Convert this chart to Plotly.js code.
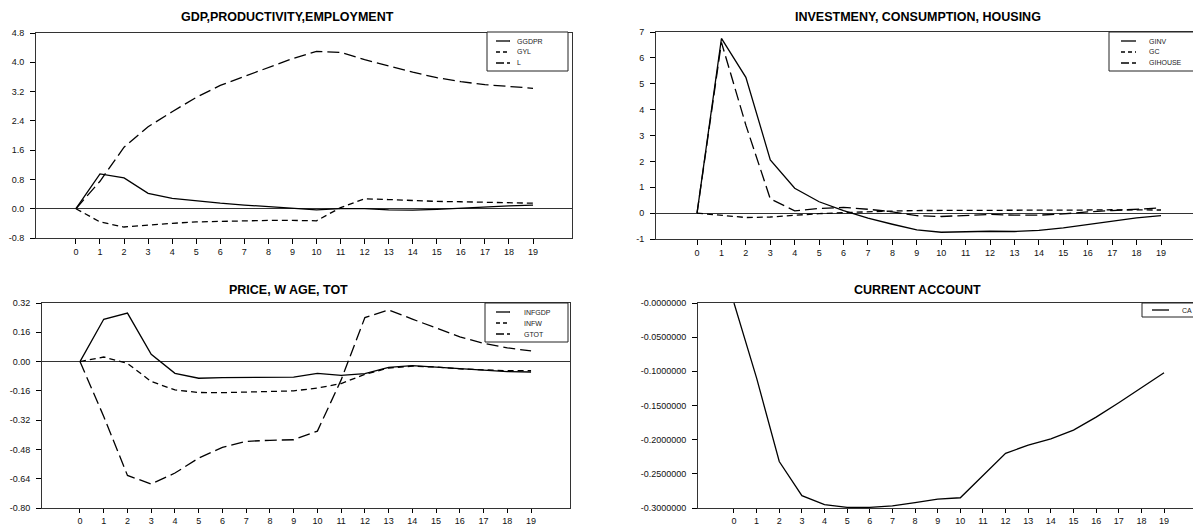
<!DOCTYPE html>
<html>
<head>
<meta charset="utf-8">
<script src="https://cdn.plot.ly/plotly-3.0.1.min.js"></script>
<style>
  html, body { margin: 0; padding: 0; background: #fff; }
  #chart { width: 1193px; height: 526px; }
</style>
</head>
<body>
<div id="chart"></div>
<script>
// ---------- data ----------
var periods = [0,1,2,3,4,5,6,7,8,9,10,11,12,13,14,15,16,17,18,19];

// Panel 1: GDP, productivity, employment
var GGDPR = [0, 0.95, 0.84, 0.42, 0.28, 0.21, 0.15, 0.10, 0.05, 0.00, -0.03, 0.00, 0.00, -0.03, -0.04, -0.02, 0.02, 0.05, 0.08, 0.10];
var GYL   = [0, -0.36, -0.50, -0.44, -0.40, -0.36, -0.34, -0.33, -0.32, -0.32, -0.33, 0.03, 0.27, 0.25, 0.22, 0.20, 0.19, 0.17, 0.16, 0.15];
var L     = [0, 0.75, 1.68, 2.24, 2.65, 3.04, 3.37, 3.62, 3.86, 4.10, 4.30, 4.27, 4.07, 3.89, 3.73, 3.58, 3.47, 3.39, 3.33, 3.29];

// Panel 2: investment, consumption, housing
var GINV    = [0, 6.75, 5.25, 2.06, 0.96, 0.44, 0.10, -0.19, -0.43, -0.65, -0.74, -0.72, -0.70, -0.71, -0.67, -0.57, -0.44, -0.30, -0.18, -0.10];
var GC      = [0, -0.08, -0.17, -0.15, -0.08, -0.02, 0.02, 0.06, 0.08, 0.10, 0.10, 0.11, 0.12, 0.12, 0.12, 0.12, 0.12, 0.13, 0.13, 0.12];
var GIHOUSE = [0, 6.60, 3.40, 0.55, 0.09, 0.18, 0.22, 0.15, 0.05, -0.10, -0.13, -0.08, -0.05, -0.08, -0.08, -0.03, 0.05, 0.10, 0.15, 0.20];

// Panel 3: price, wage, terms of trade
var INFGDP = [0, 0.231, 0.265, 0.040, -0.064, -0.091, -0.088, -0.086, -0.086, -0.085, -0.064, -0.075, -0.066, -0.032, -0.022, -0.030, -0.040, -0.050, -0.055, -0.057];
var INFW   = [0, 0.025, -0.010, -0.109, -0.155, -0.169, -0.170, -0.168, -0.165, -0.160, -0.145, -0.120, -0.070, -0.035, -0.025, -0.030, -0.040, -0.046, -0.050, -0.050];
var GTOT   = [0, -0.30, -0.622, -0.669, -0.609, -0.527, -0.469, -0.436, -0.430, -0.427, -0.380, -0.100, 0.240, 0.282, 0.232, 0.182, 0.135, 0.100, 0.075, 0.058];

// Panel 4: current account
var CA = [0, -0.110, -0.232, -0.282, -0.295, -0.299, -0.299, -0.297, -0.292, -0.287, -0.285, -0.252, -0.220, -0.208, -0.199, -0.186, -0.167, -0.146, -0.124, -0.102];

// tick labels
var ticks1 = [-0.8, 0.0, 0.8, 1.6, 2.4, 3.2, 4.0, 4.8];
var ticks1Text = ["-0.8", "0.0", "0.8", "1.6", "2.4", "3.2", "4.0", "4.8"];
var ticks2 = [-1, 0, 1, 2, 3, 4, 5, 6, 7];
var ticks3 = [-0.80, -0.64, -0.48, -0.32, -0.16, 0.00, 0.16, 0.32];
var ticks3Text = ["-0.80", "-0.64", "-0.48", "-0.32", "-0.16", "0.00", "0.16", "0.32"];
var ticks4 = [-0.30, -0.25, -0.20, -0.15, -0.10, -0.05, 0.0];
var ticks4Text = ["-0.3000000", "-0.2500000", "-0.2000000", "-0.1500000", "-0.1000000", "-0.0500000", "-0.0000000"];

var titles = ["GDP,PRODUCTIVITY,EMPLOYMENT", "INVESTMENY, CONSUMPTION, HOUSING", "PRICE, W AGE, TOT", "CURRENT ACCOUNT"];

// ---------- helpers ----------
var W = 1193, H = 526;
function px(x) { return x / W; }
function py(y) { return 1 - y / H; }

var SOLID = "solid", SHORT = "6px,4px", LONG = "12px,5px";
var FONT = "Liberation Sans, Arial, sans-serif";

function tr(y, name, dash, xa, ya) {
  return {x: periods, y: y, name: name, type: "scatter", mode: "lines",
          line: {color: "#000", width: 1.3, dash: dash},
          xaxis: xa, yaxis: ya, showlegend: false, hoverinfo: "x+y+name"};
}

var data = [
  tr(GGDPR, "GGDPR", SOLID, "x", "y"),
  tr(GYL, "GYL", SHORT, "x", "y"),
  tr(L, "L", LONG, "x", "y"),
  tr(GINV, "GINV", SOLID, "x2", "y2"),
  tr(GC, "GC", SHORT, "x2", "y2"),
  tr(GIHOUSE, "GIHOUSE", LONG, "x2", "y2"),
  tr(INFGDP, "INFGDP", SOLID, "x3", "y3"),
  tr(INFW, "INFW", SHORT, "x3", "y3"),
  tr(GTOT, "GTOT", LONG, "x3", "y3"),
  tr(CA, "CA", SOLID, "x4", "y4")
];

function xax(d0, d1, r0, r1, anchor, tl) {
  return {domain: [px(d0), px(d1)], range: [r0, r1], anchor: anchor,
          tickmode: "array", tickvals: periods, ticktext: periods.map(String),
          ticks: "outside", ticklen: tl, tickcolor: "#000", tickwidth: 1,
          showline: true, mirror: true, linecolor: "#333", linewidth: 1,
          showgrid: false, zeroline: false, fixedrange: true,
          tickfont: {family: FONT, size: 9, color: "#111"}};
}
function yax(d0, d1, r0, r1, anchor, vals, text, zl) {
  return {domain: [py(d1), py(d0)], range: [r0, r1], anchor: anchor,
          tickmode: "array", tickvals: vals, ticktext: text,
          ticks: "outside", ticklen: 5, tickcolor: "#000", tickwidth: 1,
          showline: true, mirror: true, linecolor: "#333", linewidth: 1,
          showgrid: false, zeroline: zl, zerolinecolor: "#333", zerolinewidth: 1,
          fixedrange: true, ticklabelstandoff: 4,
          tickfont: {family: FONT, size: 9, color: "#111"}};
}

var layout = {
  width: W, height: H,
  margin: {l: 0, r: 0, t: 0, b: 0},
  paper_bgcolor: "#fff", plot_bgcolor: "#fff",
  showlegend: false,
  xaxis:  xax(36, 572, -1.66, 20.62, "y", 5),
  yaxis:  yax(33, 238, -0.8, 4.8, "x", ticks1, ticks1Text, true),
  xaxis2: xax(656, 1193, -1.68, 20.31, "y2", 5),
  yaxis2: yax(32, 239, -1, 7, "x2", ticks2, ticks2.map(String), true),
  xaxis3: xax(42, 570, -1.60, 20.64, "y3", 4),
  yaxis3: yax(303, 508, -0.8, 0.32, "x3", ticks3, ticks3Text, true),
  xaxis4: xax(698, 1193, -1.59, 20.28, "y4", 4),
  yaxis4: yax(303, 508, -0.3, 0.0, "x4", ticks4, ticks4Text, false),
  annotations: [],
  shapes: []
};

// titles
var titlePos = [[287, 17], [918, 17], [288, 290], [917, 290]];
titles.forEach(function (t, i) {
  layout.annotations.push({text: "<b>" + t + "</b>", xref: "paper", yref: "paper",
    x: px(titlePos[i][0]), y: py(titlePos[i][1]), xanchor: "center", yanchor: "middle",
    showarrow: false, font: {family: FONT, size: 12.5, color: "#000"}});
});

// manual legends (box, line samples, labels)
var legends = [
  {box: [487, 32, 568, 71], lx: [496, 510], tx: 515, rows: [41, 52, 63], names: ["GGDPR", "GYL", "L"]},
  {box: [1109, 32, 1200, 71], lx: [1121, 1136], tx: 1147, rows: [41, 52, 63], names: ["GINV", "GC", "GIHOUSE"]},
  {box: [485, 303, 568, 342], lx: [496, 510], tx: 522, rows: [312, 323, 334], names: ["INFGDP", "INFW", "GTOT"]},
  {box: [1142, 303, 1200, 317], lx: [1152, 1169], tx: 1180, rows: [310], names: ["CA"]}
];
var dashes = [SOLID, "4px,3px", "8px,3px"];
legends.forEach(function (lg) {
  layout.shapes.push({type: "rect", xref: "paper", yref: "paper",
    x0: px(lg.box[0]), x1: px(lg.box[2]), y0: py(lg.box[3]), y1: py(lg.box[1]),
    line: {color: "#222", width: 1}, fillcolor: "#fff", layer: "above"});
  lg.names.forEach(function (n, i) {
    layout.shapes.push({type: "line", xref: "paper", yref: "paper",
      x0: px(lg.lx[0]), x1: px(lg.lx[1]), y0: py(lg.rows[i]), y1: py(lg.rows[i]),
      line: {color: "#000", width: 1.3, dash: dashes[i]}, layer: "above"});
    layout.annotations.push({text: n, xref: "paper", yref: "paper",
      x: px(lg.tx), y: py(lg.rows[i]), xanchor: "left", yanchor: "middle",
      showarrow: false, font: {family: FONT, size: 7, color: "#222"}});
  });
});

Plotly.newPlot("chart", data, layout, {staticPlot: true, displayModeBar: false});
</script>
</body>
</html>
